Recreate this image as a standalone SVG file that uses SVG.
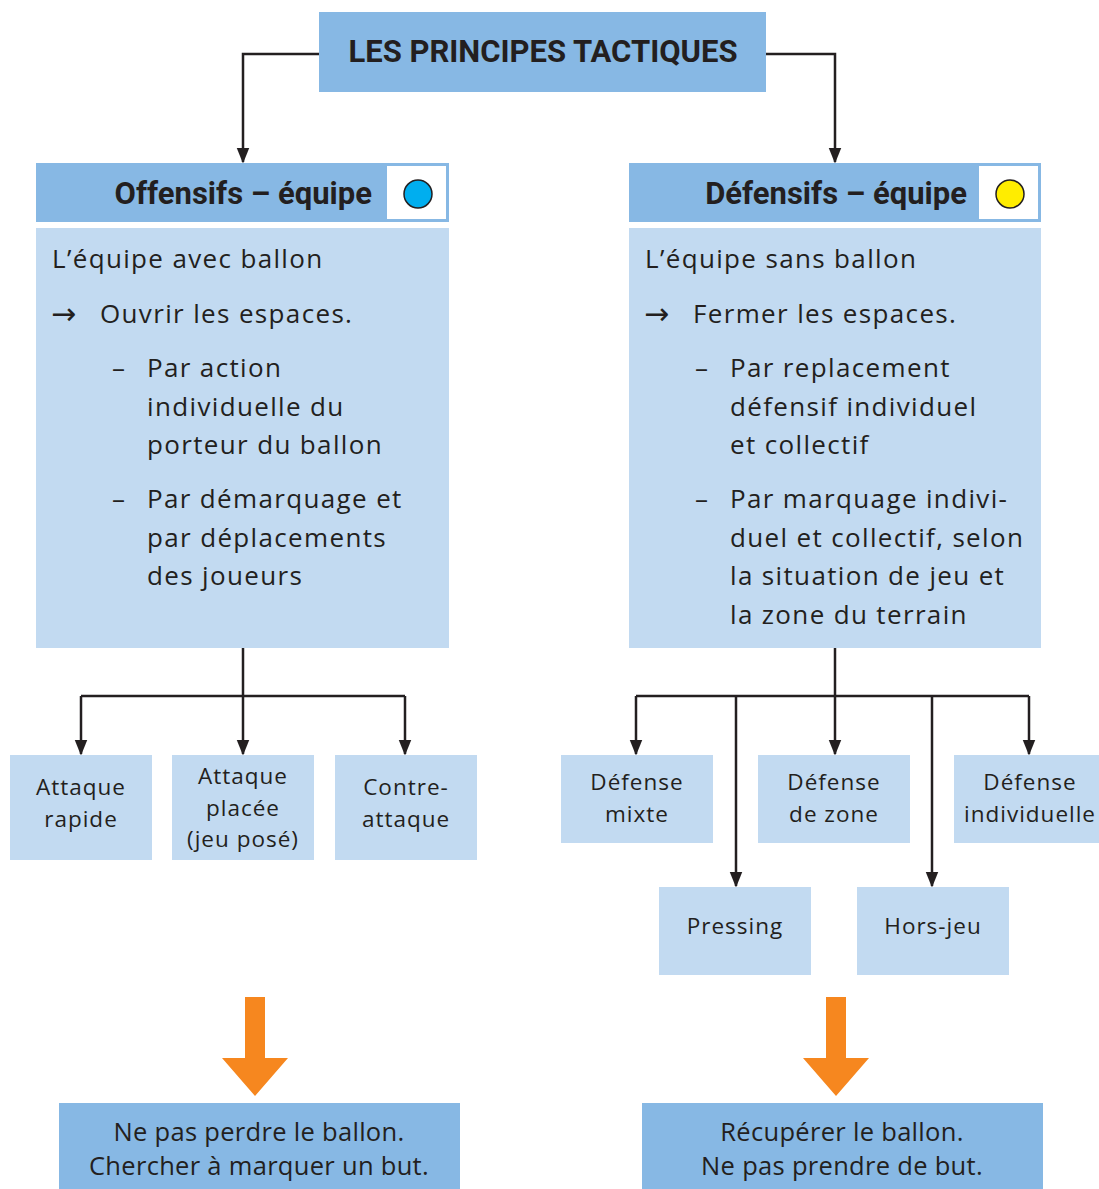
<svg xmlns="http://www.w3.org/2000/svg" width="1099" height="1189" viewBox="0 0 1099 1189">
<style>
.hd{fill:#87b8e4}
.bd{fill:#c2daf1}
.t{font-family:"Open Sans","Noto Sans","Liberation Sans",sans-serif;fill:#231f20}
.r{font-family:Roboto,"Noto Sans","Liberation Sans",sans-serif;fill:#231f20}
.ar{font-family:"DejaVu Sans",sans-serif;fill:#231f20;font-size:30px}
.b{font-size:26px;letter-spacing:1.35px}
.f{font-size:25.5px;text-anchor:middle;letter-spacing:0.3px}
.s{font-size:22.5px;text-anchor:middle;letter-spacing:1px}
.h{font-size:31px;font-weight:bold}
.c{stroke:#231f20;stroke-width:2.5;fill:none}
.o{fill:#f6871f}
</style>
<defs>
<marker id="a" markerWidth="16" markerHeight="20" refX="18" refY="8" orient="auto" markerUnits="userSpaceOnUse" viewBox="0 0 20 16">
<path d="M0,0 L20,8 L0,16 Z" fill="#231f20"/>
</marker>
</defs>

<g id="connectors">
<path class="c" d="M319,54 H243 V162" marker-end="url(#a)"/>
<path class="c" d="M766,54 H835 V162" marker-end="url(#a)"/>
<path class="c" d="M243,648 V696"/>
<path class="c" d="M81,696 H405"/>
<path class="c" d="M81,696 V754" marker-end="url(#a)"/>
<path class="c" d="M243,696 V754" marker-end="url(#a)"/>
<path class="c" d="M405,696 V754" marker-end="url(#a)"/>
<path class="c" d="M835,648 V696"/>
<path class="c" d="M636,696 H1029"/>
<path class="c" d="M636,696 V754" marker-end="url(#a)"/>
<path class="c" d="M835,696 V754" marker-end="url(#a)"/>
<path class="c" d="M1029,696 V754" marker-end="url(#a)"/>
<path class="c" d="M736,696 V886" marker-end="url(#a)"/>
<path class="c" d="M932,696 V886" marker-end="url(#a)"/>
<path class="o" d="M245,997 H265 V1058 H288 L255,1096 L222,1058 H245 Z"/>
<path class="o" d="M826,997 H846 V1058 H869 L836,1096 L803,1058 H826 Z"/>
</g>

<g id="title">
<rect class="hd" x="319" y="12" width="447" height="80"/>
<text class="r" x="543" y="62" text-anchor="middle" font-size="31" font-weight="bold">LES PRINCIPES TACTIQUES</text>
</g>

<g id="offensifs">
<rect class="hd" x="36" y="163" width="413" height="59"/>
<rect x="387" y="166" width="59" height="53" fill="#fff"/>
<circle cx="418" cy="194" r="14" fill="#00aeef" stroke="#231f20" stroke-width="1.5"/>
<text class="r h" x="372" y="204" text-anchor="end">Offensifs – équipe</text>
<rect class="bd" x="36" y="228" width="413" height="420"/>
<text class="t b" x="52" y="268">L’équipe avec ballon</text>
<text class="ar" x="51" y="324">→</text>
<text class="t b" x="100" y="323">Ouvrir les espaces.</text>
<text class="t b" x="112" y="377">–</text>
<text class="t b" x="147" y="377">Par action</text>
<text class="t b" x="147" y="416">individuelle du</text>
<text class="t b" x="147" y="454">porteur du ballon</text>
<text class="t b" x="112" y="508">–</text>
<text class="t b" x="147" y="508">Par démarquage et</text>
<text class="t b" x="147" y="547">par déplacements</text>
<text class="t b" x="147" y="585">des joueurs</text>
</g>

<g id="defensifs">
<rect class="hd" x="629" y="163" width="412" height="59"/>
<rect x="979" y="166" width="59" height="53" fill="#fff"/>
<circle cx="1010" cy="194" r="14" fill="#ffed00" stroke="#231f20" stroke-width="1.5"/>
<text class="r h" x="967" y="204" text-anchor="end">Défensifs – équipe</text>
<rect class="bd" x="629" y="228" width="412" height="420"/>
<text class="t b" x="645" y="268">L’équipe sans ballon</text>
<text class="ar" x="644" y="324">→</text>
<text class="t b" x="693" y="323">Fermer les espaces.</text>
<text class="t b" x="695" y="377">–</text>
<text class="t b" x="730" y="377">Par replacement</text>
<text class="t b" x="730" y="416">défensif individuel</text>
<text class="t b" x="730" y="454">et collectif</text>
<text class="t b" x="695" y="508">–</text>
<text class="t b" x="730" y="508">Par marquage indivi-</text>
<text class="t b" x="730" y="547">duel et collectif, selon</text>
<text class="t b" x="730" y="585">la situation de jeu et</text>
<text class="t b" x="730" y="624">la zone du terrain</text>
</g>

<g id="attaque-rapide">
<rect class="bd" x="10" y="755" width="142" height="105"/>
<text class="t s" x="81" y="795">Attaque</text>
<text class="t s" x="81" y="827">rapide</text>
</g>
<g id="attaque-placee">
<rect class="bd" x="172" y="755" width="142" height="105"/>
<text class="t s" x="243" y="784">Attaque</text>
<text class="t s" x="243" y="816">placée</text>
<text class="t s" x="243" y="847">(jeu posé)</text>
</g>
<g id="contre-attaque">
<rect class="bd" x="335" y="755" width="142" height="105"/>
<text class="t s" x="406" y="795">Contre-</text>
<text class="t s" x="406" y="827">attaque</text>
</g>

<g id="defense-mixte">
<rect class="bd" x="561" y="755" width="152" height="88"/>
<text class="t s" x="637" y="790">Défense</text>
<text class="t s" x="637" y="822">mixte</text>
</g>
<g id="defense-zone">
<rect class="bd" x="758" y="755" width="152" height="88"/>
<text class="t s" x="834" y="790">Défense</text>
<text class="t s" x="834" y="822">de zone</text>
</g>
<g id="defense-individuelle">
<rect class="bd" x="954" y="755" width="145" height="88"/>
<text class="t s" x="1030" y="790">Défense</text>
<text class="t s" x="1030" y="822">individuelle</text>
</g>
<g id="pressing">
<rect class="bd" x="659" y="887" width="152" height="88"/>
<text class="t s" x="735" y="934">Pressing</text>
</g>
<g id="hors-jeu">
<rect class="bd" x="857" y="887" width="152" height="88"/>
<text class="t s" x="933" y="934">Hors-jeu</text>
</g>

<g id="but-offensif">
<rect class="hd" x="59" y="1103" width="401" height="86"/>
<text class="t f" x="259" y="1141">Ne pas perdre le ballon.</text>
<text class="t f" x="259" y="1175">Chercher à marquer un but.</text>
</g>
<g id="but-defensif">
<rect class="hd" x="642" y="1103" width="401" height="86"/>
<text class="t f" x="842" y="1141">Récupérer le ballon.</text>
<text class="t f" x="842" y="1175">Ne pas prendre de but.</text>
</g>
</svg>
